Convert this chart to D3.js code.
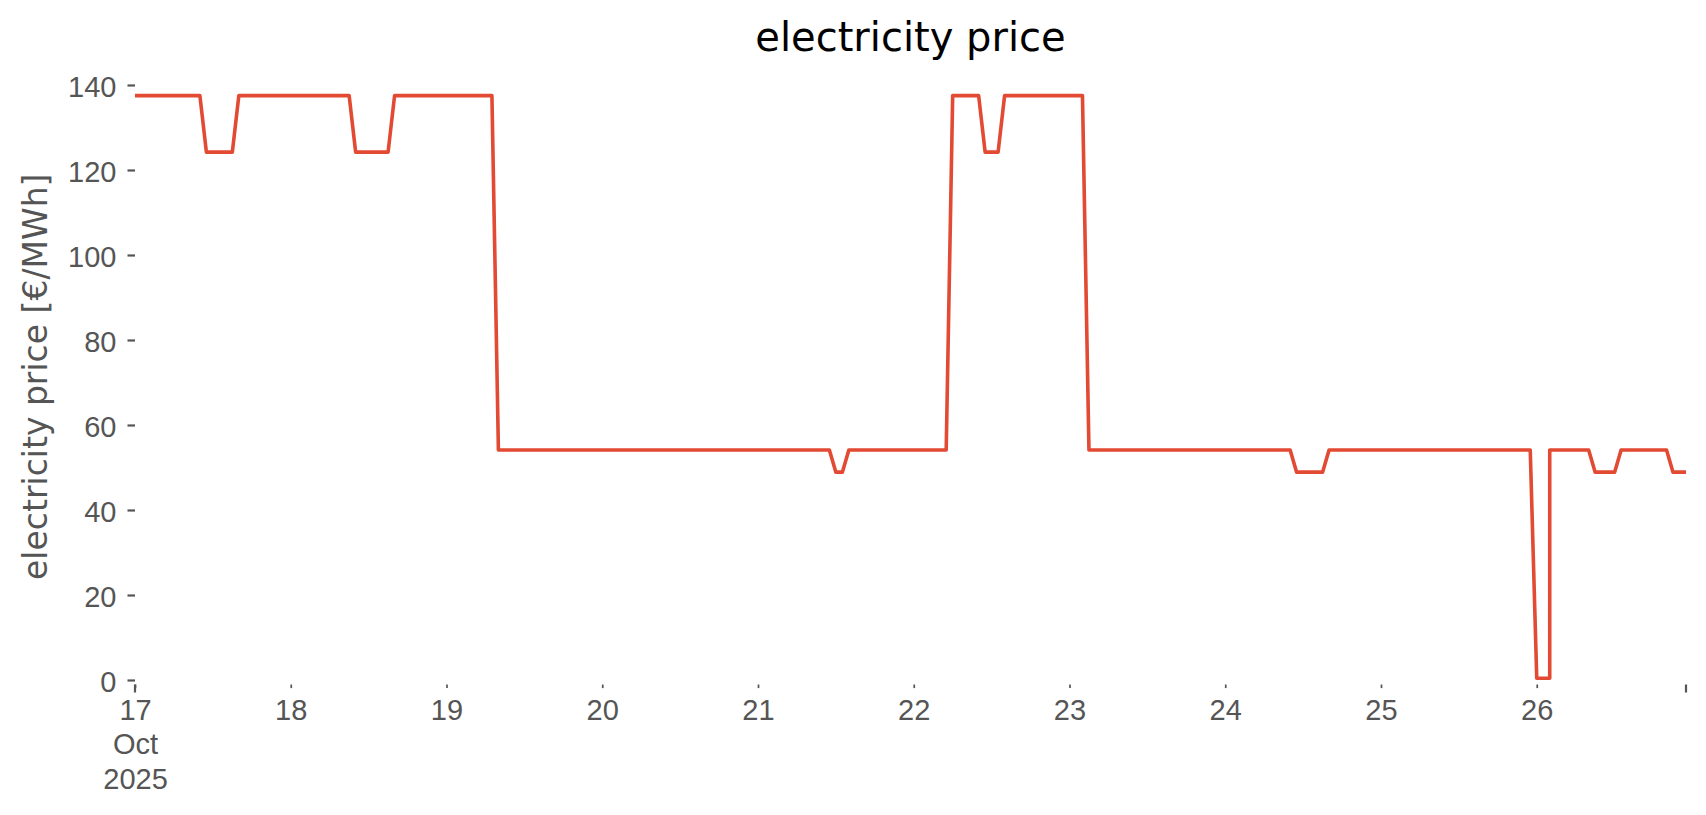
<!DOCTYPE html>
<head><meta charset="utf-8"/></head>
<style>
body{
    margin: 0;
    background: white;
}
svg{
    font-family: "DejaVu Sans", sans-serif;
}
.tick text{
    fill: #555555;
    font-size: 29px;
}
.price-line{
    fill: none;
    stroke: #E24A33;
    stroke-width: 3.6;
    stroke-linejoin: round;
}
</style>

<script src="https://d3js.org/d3.v7.min.js"></script>

<body>
<div id="chart"></div>
</body>
<script>

// hourly prices [€/MWh], local time (Europe/Berlin), one array per day
var oct17 = [137.5,137.5,137.5,137.5,137.5,137.5,137.5,137.5,137.5,137.5,137.5,124.2,124.2,124.2,124.2,124.2,137.5,137.5,137.5,137.5,137.5,137.5,137.5,137.5];
var oct18 = [137.5,137.5,137.5,137.5,137.5,137.5,137.5,137.5,137.5,137.5,124.2,124.2,124.2,124.2,124.2,124.2,137.5,137.5,137.5,137.5,137.5,137.5,137.5,137.5];
var oct19 = [137.5,137.5,137.5,137.5,137.5,137.5,137.5,137.5,54.1,54.1,54.1,54.1,54.1,54.1,54.1,54.1,54.1,54.1,54.1,54.1,54.1,54.1,54.1,54.1];
var oct20 = [54.1,54.1,54.1,54.1,54.1,54.1,54.1,54.1,54.1,54.1,54.1,54.1,54.1,54.1,54.1,54.1,54.1,54.1,54.1,54.1,54.1,54.1,54.1,54.1];
var oct21 = [54.1,54.1,54.1,54.1,54.1,54.1,54.1,54.1,54.1,54.1,54.1,54.1,48.9,48.9,54.1,54.1,54.1,54.1,54.1,54.1,54.1,54.1,54.1,54.1];
var oct22 = [54.1,54.1,54.1,54.1,54.1,54.1,137.5,137.5,137.5,137.5,137.5,124.2,124.2,124.2,137.5,137.5,137.5,137.5,137.5,137.5,137.5,137.5,137.5,137.5];
var oct23 = [137.5,137.5,137.5,54.1,54.1,54.1,54.1,54.1,54.1,54.1,54.1,54.1,54.1,54.1,54.1,54.1,54.1,54.1,54.1,54.1,54.1,54.1,54.1,54.1];
var oct24 = [54.1,54.1,54.1,54.1,54.1,54.1,54.1,54.1,54.1,54.1,54.1,48.9,48.9,48.9,48.9,48.9,54.1,54.1,54.1,54.1,54.1,54.1,54.1,54.1];
var oct25 = [54.1,54.1,54.1,54.1,54.1,54.1,54.1,54.1,54.1,54.1,54.1,54.1,54.1,54.1,54.1,54.1,54.1,54.1,54.1,54.1,54.1,54.1,54.1,54.1];
// 26 Oct has 25 hours (clocks go back at 03:00)
var oct26 = [0.4,0.4,0.4,54.1,54.1,54.1,54.1,54.1,54.1,54.1,48.9,48.9,48.9,48.9,54.1,54.1,54.1,54.1,54.1,54.1,54.1,54.1,48.9,48.9,48.9];

var yTicks = [0, 20, 40, 60, 80, 100, 120, 140];
var firstLabel = ["17", "Oct", "2025"];

var price = [].concat(oct17, oct18, oct19, oct20, oct21, oct22, oct23, oct24, oct25, oct26);

var width = 1706,
    height = 815,
    margin = {top: 69, left: 135, right: 20, bottom: 130.5};

var svg = d3.select("#chart")
    .append("svg")
    .attr("width", width)
    .attr("height", height);

// wall clock time for each hour, CEST -> CET switch on 26 Oct 01:00 UTC
var start = Date.UTC(2025, 9, 16, 22),
    dstEnd = Date.UTC(2025, 9, 26, 1);

var data = price.map(function(v, i) {
    var utc = start + i * 3600e3;
    var offset = utc < dstEnd ? 2 : 1;
    return {t: new Date(utc + offset * 3600e3), v: v};
});

var x = d3.scaleUtc()
    .domain(d3.extent(data, function(d) { return d.t; }))
    .range([margin.left, width - margin.right]);

var y = d3.scaleLinear()
    .domain([-1.06, 143.76])
    .range([height - margin.bottom, margin.top]);

// y axis
var yAxis = svg.append("g")
    .attr("transform", "translate(" + margin.left + ",0)")
    .call(d3.axisLeft(y).tickValues(yTicks).tickSize(7.5).tickPadding(11));
yAxis.select(".domain").remove();
yAxis.selectAll(".tick line").attr("stroke", "#555555").attr("stroke-width", 2.2);
yAxis.selectAll(".tick text").attr("dy", "0.4em");

// x axis: day ticks (minor), ends of range (major)
var dom = x.domain();
var dayTicks = d3.utcDay.range(dom[0], new Date(+dom[1] + 1));

var xAxis = svg.append("g")
    .attr("transform", "translate(0," + (height - margin.bottom) + ")")
    .call(d3.axisBottom(x).tickValues(dayTicks).tickSize(3.6).tickPadding(10)
        .tickFormat(d3.utcFormat("%-d")));
xAxis.select(".domain").remove();
xAxis.selectAll(".tick line").attr("stroke", "#555555").attr("stroke-width", 1.7);

xAxis.selectAll(".tick text")
    .attr("y", 15)
    .each(function(d, i) {
        if (i == 0) {
            var t = d3.select(this).text("");
            firstLabel.forEach(function(s, k) {
                t.append("tspan").attr("x", 0).attr("dy", k == 0 ? "0.71em" : "1.18em").text(s);
            });
        }
    });

// major ticks at start and end
xAxis.selectAll(".major")
    .data(dom)
    .enter().append("line")
    .attr("class", "major")
    .attr("x1", function(d) { return x(d); })
    .attr("x2", function(d) { return x(d); })
    .attr("y1", 0)
    .attr("y2", 8)
    .attr("stroke", "#555555")
    .attr("stroke-width", 2.2);

// price line
var line = d3.line()
    .x(function(d) { return x(d.t); })
    .y(function(d) { return y(d.v); });

svg.append("path")
    .datum(data)
    .attr("class", "price-line")
    .attr("d", line);

// title and axis label
svg.append("text")
    .attr("x", (margin.left + width - margin.right) / 2)
    .attr("y", 51)
    .attr("text-anchor", "middle")
    .style("font-size", "40px")
    .style("fill", "black")
    .text("electricity price");

svg.append("text")
    .attr("transform", "translate(47," + ((margin.top + height - margin.bottom) / 2) + ") rotate(-90)")
    .attr("text-anchor", "middle")
    .style("font-size", "33px")
    .style("fill", "#555555")
    .text("electricity price [€/MWh]");

</script>
